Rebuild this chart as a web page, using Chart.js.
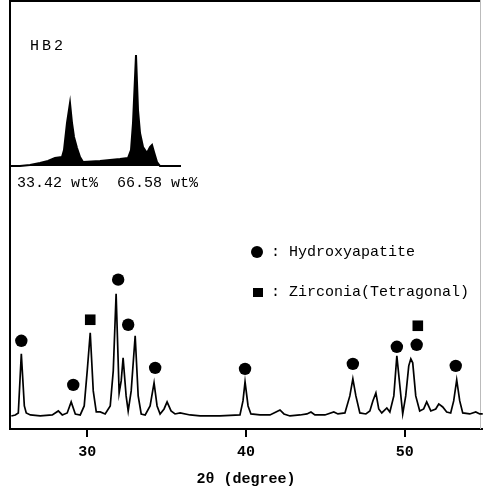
<!DOCTYPE html>
<html>
<head>
<meta charset="utf-8">
<script src="https://cdn.jsdelivr.net/npm/chart.js@4.4.1/dist/chart.umd.min.js"></script>
<style>
    body { margin: 0; background: #fff; }
    #wrap { position: relative; width: 483px; height: 493px; overflow: hidden; }
    #xrdChart { position: absolute; left: 0; top: 0; }
    #insetChart { position: absolute; left: 9px; top: 0; }
    .txt { position: absolute; font-family: "Liberation Mono", "DejaVu Sans Mono", monospace; font-size: 15px; color: #000; white-space: pre; line-height: 1; }
    .dot { position: absolute; width: 12px; height: 12px; border-radius: 50%; background: #000; }
    .sq { position: absolute; width: 10px; height: 9px; background: #000; }
</style>
</head>
<body>
<div id="wrap">
    <canvas id="xrdChart" width="483" height="493"></canvas>
    <canvas id="insetChart" width="172" height="170"></canvas>
    <div class="txt" style="left:30px; top:39px; letter-spacing:3px;">HB2</div>
    <div class="txt" style="left:17px; top:176px;">33.42 wt%</div>
    <div class="txt" style="left:117px; top:176px;">66.58 wt%</div>
    <div class="dot" style="left:251px; top:246px;"></div>
    <div class="txt" style="left:271px; top:245px;">: Hydroxyapatite</div>
    <div class="sq" style="left:253px; top:288px;"></div>
    <div class="txt" style="left:271px; top:285px;">: Zirconia(Tetragonal)</div>
</div>
<script>
// main pattern, 2theta (deg) vs intensity (arb. units)
const angles = [25.22, 25.47, 25.66, 25.85, 26.04, 26.16, 26.42, 27.04, 27.80, 28.18, 28.43, 28.74, 28.99, 29.25,
    29.56, 29.81, 30.00, 30.19, 30.38, 30.57, 30.82, 31.13, 31.45, 31.64, 31.82, 32.01, 32.14, 32.26, 32.45,
    32.58, 32.77, 33.02, 33.21, 33.40, 33.65, 33.96, 34.21, 34.40, 34.59, 34.84, 35.03, 35.28, 35.53, 35.85,
    36.48, 37.11, 38.36, 39.62, 39.81, 39.94, 40.13, 40.31, 40.88, 41.51, 41.89, 42.14, 42.39, 42.77, 43.40,
    43.84, 44.09, 44.34, 44.97, 45.53, 45.79, 46.23, 46.54, 46.73, 46.92, 47.17, 47.55, 47.80, 47.99, 48.18,
    48.36, 48.55, 48.87, 49.06, 49.31, 49.50, 49.69, 49.87, 50.06, 50.25, 50.38, 50.50, 50.69, 50.94, 51.19,
    51.38, 51.64, 51.95, 52.14, 52.39, 52.64, 52.89, 53.08, 53.27, 53.46, 53.65, 54.09, 54.47, 54.72, 54.91];
const intensity = [13, 14, 16, 75, 23, 16, 14, 13, 14, 18, 14, 16, 27, 15,
    14, 23, 58, 96, 38, 17, 17, 15, 23, 58, 135, 36, 48, 71, 33,
    18, 38, 93, 33, 15, 14, 23, 46, 23, 15, 20, 27, 18, 15, 16,
    14, 13, 13, 14, 28, 47, 23, 15, 14, 14, 17, 19, 15, 13, 14,
    15, 17, 14, 14, 17, 15, 16, 33, 50, 33, 16, 15, 18, 28, 36,
    20, 16, 21, 17, 33, 73, 43, 15, 33, 63, 70, 66, 33, 18, 20,
    27, 18, 20, 25, 22, 17, 16, 28, 49, 28, 16, 15, 17, 15, 15];

// phase markers
const haAngles = [25.85, 29.12, 31.95, 32.58, 34.28, 39.94, 46.73, 49.50, 50.75, 53.21];
const haLevels = [88, 44, 149, 104, 61, 60, 65, 82, 84, 63];
const zrAngles = [30.19, 50.82];
const zrLevels = [109, 103];

const xTicks = [30, 40, 50];

// inset profile (deconvolution window, arb. units)
const insetX = [0, 1, 11, 21, 31, 39, 46, 53, 55, 58, 61, 63, 65, 68, 71, 74, 91, 111, 119, 122, 124,
    127, 129, 131, 134, 138, 141, 143, 145, 148, 151, 171, 172];
const insetCounts = [0, 0, 0, 1, 3, 5, 8, 9, 16, 43, 63, 43, 29, 18, 9, 4, 5, 7, 8, 16, 43,
    111, 56, 33, 19, 13, 19, 21, 14, 4, 0, 0, 0];

const toPoints = (xs, ys) => xs.map((x, i) => ({ x: x, y: ys[i] }));

const framePlugin = {
    id: 'frame',
    beforeDatasetsDraw(chart) {
        const { ctx, chartArea } = chart;
        const { left, right, top, bottom } = chartArea;
        ctx.save();
        ctx.strokeStyle = '#000';
        ctx.lineWidth = 2;
        ctx.beginPath();
        ctx.moveTo(left - 1, top + 1);
        ctx.lineTo(right, top + 1);
        ctx.moveTo(left - 1, top);
        ctx.lineTo(left - 1, bottom);
        ctx.lineTo(chart.width, bottom);
        ctx.stroke();
        ctx.strokeStyle = '#bbb';
        ctx.lineWidth = 1;
        ctx.beginPath();
        ctx.moveTo(right - 0.5, top);
        ctx.lineTo(right - 0.5, bottom);
        ctx.stroke();
        ctx.restore();
    }
};

function initializeXrdChart() {
    if (typeof Chart === 'undefined') {
        console.error('Chart.js is not loaded.');
        return;
    }
    const ctx = document.getElementById('xrdChart').getContext('2d');
    new Chart(ctx, {
        type: 'line',
        data: {
            datasets: [
                {
                    label: 'HB2',
                    data: toPoints(angles, intensity),
                    borderColor: '#000',
                    borderWidth: 1.7,
                    pointRadius: 0,
                    tension: 0,
                    fill: false
                },
                {
                    type: 'scatter',
                    label: 'Hydroxyapatite',
                    data: toPoints(haAngles, haLevels),
                    pointStyle: 'circle',
                    pointRadius: 6.2,
                    backgroundColor: '#000',
                    borderColor: '#000',
                    borderWidth: 0
                },
                {
                    type: 'scatter',
                    label: 'Zirconia(Tetragonal)',
                    data: toPoints(zrAngles, zrLevels),
                    pointStyle: 'rect',
                    pointRadius: 7.5,
                    backgroundColor: '#000',
                    borderColor: '#000',
                    borderWidth: 0
                }
            ]
        },
        options: {
            responsive: false,
            animation: false,
            clip: false,
            layout: { autoPadding: false, padding: { left: 11, right: 2, top: 0, bottom: 0 } },
            plugins: {
                legend: { display: false },
                tooltip: { enabled: false }
            },
            scales: {
                x: {
                    type: 'linear',
                    min: 25.2,
                    max: 54.8,
                    afterBuildTicks: axis => {
                        axis.ticks = xTicks.map(v => ({ value: v }));
                    },
                    border: { display: false },
                    grid: {
                        drawOnChartArea: false,
                        drawTicks: true,
                        tickLength: 8,
                        color: '#000',
                        lineWidth: 2
                    },
                    ticks: {
                        color: '#000',
                        padding: 6,
                        maxRotation: 0,
                        font: { family: 'Liberation Mono', size: 15, weight: 'bold' }
                    },
                    title: {
                        display: true,
                        text: '2θ (degree)',
                        color: '#000',
                        padding: { top: 3, bottom: 5 },
                        font: { family: 'Liberation Mono', size: 15, weight: 'bold' }
                    }
                },
                y: {
                    display: false,
                    min: 0,
                    max: 428
                }
            }
        },
        plugins: [framePlugin]
    });

    const insetCtx = document.getElementById('insetChart').getContext('2d');
    new Chart(insetCtx, {
        type: 'line',
        data: {
            datasets: [{
                label: 'inset',
                data: toPoints(insetX, insetCounts),
                borderColor: '#000',
                backgroundColor: '#000',
                borderWidth: 2,
                pointRadius: 0,
                tension: 0,
                fill: 'origin'
            }]
        },
        options: {
            responsive: false,
            animation: false,
            layout: { autoPadding: false, padding: 0 },
            plugins: {
                legend: { display: false },
                tooltip: { enabled: false }
            },
            scales: {
                x: { type: 'linear', display: false, min: 0, max: 172 },
                y: { display: false, min: -4, max: 166 }
            }
        }
    });
}

document.addEventListener('DOMContentLoaded', initializeXrdChart);
</script>
</body>
</html>
